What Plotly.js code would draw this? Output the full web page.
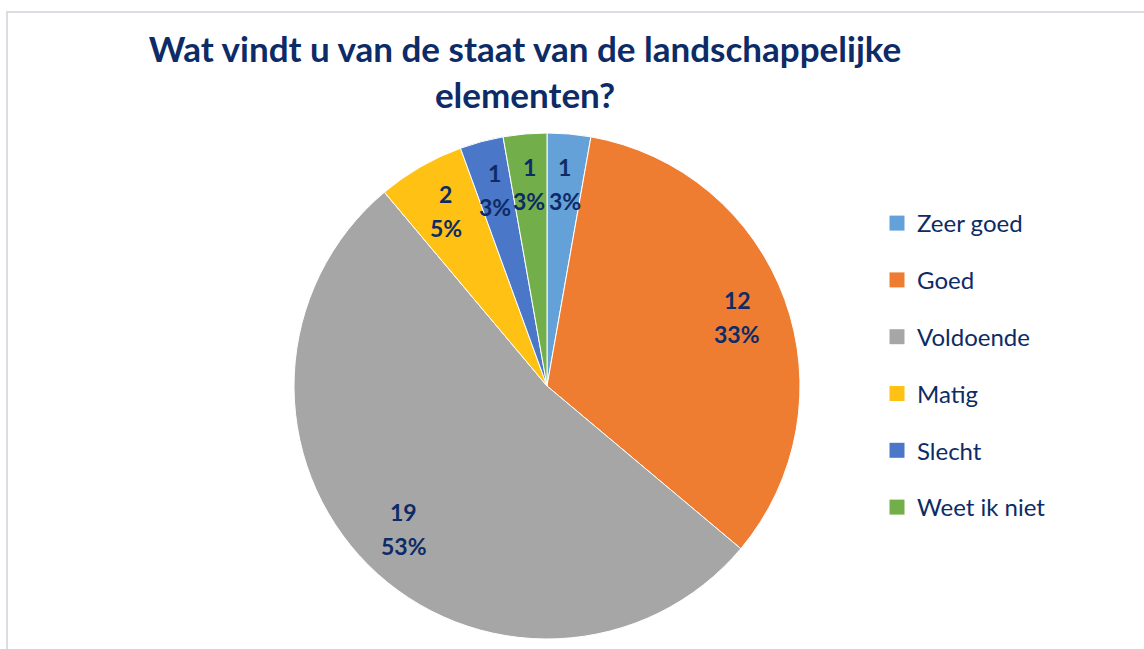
<!DOCTYPE html>
<html>
<head>
<meta charset="utf-8">
<script src="https://cdn.plot.ly/plotly-3.0.1.min.js"></script>
<style>html,body{margin:0;padding:0;background:#fff;}#chart{width:1144px;height:649px;}</style>
</head>
<body>
<div id="chart"></div>
<script>
const categories = ["Zeer goed", "Goed", "Voldoende", "Matig", "Slecht", "Weet ik niet"];
const counts = [1, 12, 19, 2, 1, 1];
const percentLabels = ["3%", "33%", "53%", "5%", "3%", "3%"];
const colors = ["#65A1D9", "#EE7C31", "#A6A6A6", "#FFC214", "#4A77C7", "#72AE4A"];

const W = 1144, H = 649;
const cx = 547, cy = 386, R = 253;
const navy = "#0D2B66";
const font = "Lato, 'Open Sans', sans-serif";

const pie = {
  type: "pie",
  labels: categories,
  values: counts,
  sort: false,
  direction: "clockwise",
  rotation: 0,
  marker: {colors: colors, line: {color: "#ffffff", width: 1}},
  textinfo: "none",
  hoverinfo: "label+value+percent",
  showlegend: false,
  domain: {x: [(cx - R) / W, (cx + R) / W], y: [1 - (cy + R) / H, 1 - (cy - R) / H]}
};

// legend entries, one group per category
const legendTraces = categories.map((c, i) => ({
  type: "scatter", mode: "markers", x: [null], y: [null],
  name: c, legendgroup: "g" + i,
  marker: {symbol: "square", size: 15, color: colors[i]},
  hoverinfo: "skip"
}));

// data labels placed at ~0.8 R along each slice's mid-angle
const total = counts.reduce((a, b) => a + b, 0);
const annotations = [];
let acc = 0;
counts.forEach((v, i) => {
  const mid = (acc + v / 2) / total * 2 * Math.PI;
  acc += v;
  const r = 0.8 * R;
  const px = cx + r * Math.sin(mid);
  const py = cy - r * Math.cos(mid);
  annotations.push({
    xref: "paper", yref: "paper", x: px / W, y: 1 - py / H,
    text: "<b>" + v + "</b>", showarrow: false, yanchor: "bottom", xanchor: "center",
    font: {family: font, size: 23, color: navy}, yshift: 1
  });
  annotations.push({
    xref: "paper", yref: "paper", x: px / W, y: 1 - py / H,
    text: "<b>" + percentLabels[i] + "</b>", showarrow: false, yanchor: "top", xanchor: "center",
    font: {family: font, size: 23, color: navy}, yshift: -1
  });
});

const layout = {
  width: W, height: H,
  margin: {l: 0, r: 0, t: 0, b: 0},
  paper_bgcolor: "#ffffff", plot_bgcolor: "#ffffff",
  xaxis: {visible: false}, yaxis: {visible: false},
  title: {
    text: "<b>Wat vindt u van de staat van de landschappelijke<br>elementen?</b>",
    font: {family: font, size: 35, color: navy},
    x: 525 / W, xanchor: "center", xref: "paper",
    y: 1 - 62 / H, yanchor: "top", yref: "container"
  },
  legend: {
    x: 877 / W, xanchor: "left", y: 1 - 201 / H, yanchor: "top",
    font: {family: font, size: 24, color: navy},
    tracegroupgap: 22.6, bgcolor: "rgba(0,0,0,0)"
  },
  annotations: annotations,
  shapes: [{
    type: "rect", xref: "paper", yref: "paper",
    x0: 7 / W, x1: 1.05, y0: -0.05, y1: 1 - 12 / H,
    line: {color: "#DADDE2", width: 2}
  }]
};

Plotly.newPlot("chart", [pie].concat(legendTraces), layout, {displayModeBar: false, staticPlot: true});
</script>
</body>
</html>
